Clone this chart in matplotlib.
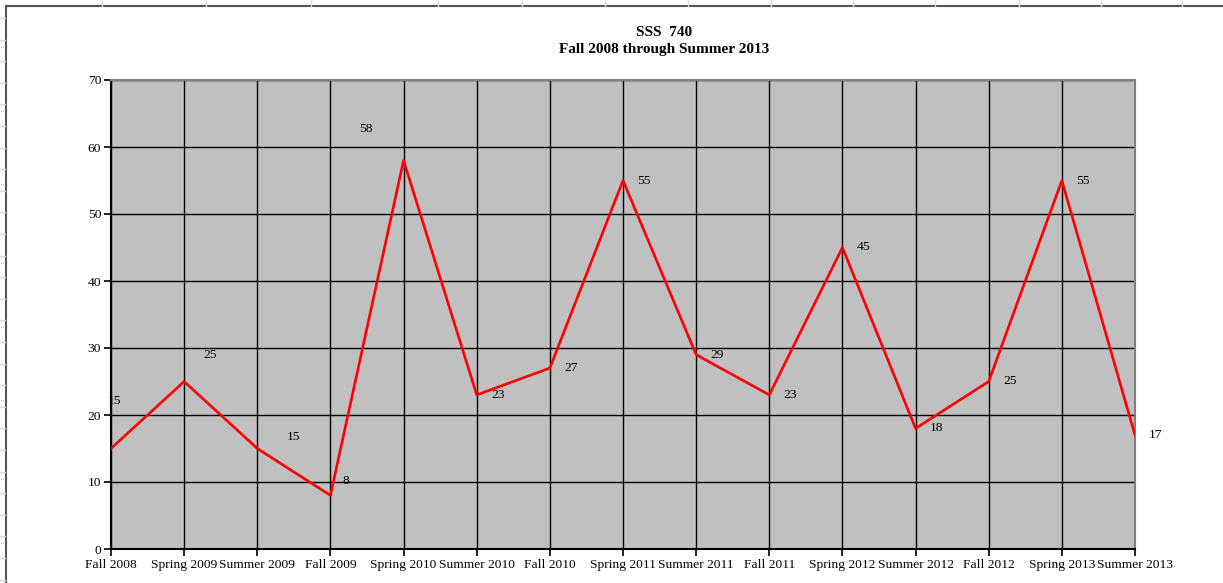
import numpy as np
import matplotlib.pyplot as plt
from matplotlib.lines import Line2D
from matplotlib.patches import Rectangle

# Terms and enrolment counts
terms = ['Fall 2008', 'Spring 2009', 'Summer 2009', 'Fall 2009', 'Spring 2010',
         'Summer 2010', 'Fall 2010', 'Spring 2011', 'Summer 2011', 'Fall 2011',
         'Spring 2012', 'Summer 2012', 'Fall 2012', 'Spring 2013', 'Summer 2013']
counts = [15, 25, 15, 8, 58, 23, 27, 55, 29, 23, 45, 18, 25, 55, 17]
yticks = [0, 10, 20, 30, 40, 50, 60, 70]

# where each data label sits relative to its point (pixels)
label_off = [(4, 48), (26, 27), (36, 11), (15, 14), (-38, 31)] + [(21, 0)] * 10

W, H = 1223, 583
plt.rcParams['font.family'] = ['Liberation Serif', 'DejaVu Serif']
fig = plt.figure(figsize=(W / 100, H / 100), dpi=100)

# spreadsheet cell lines peeking out around the chart object
for x in [102, 206, 311, 438, 522, 605, 688, 771, 853, 935, 1019, 1101, 1182]:
    fig.add_artist(Line2D([x / W, x / W], [1 - 6 / H, 1], color='#dcdcdc', lw=1))
for y in np.arange(18, 583, 21.6):
    fig.add_artist(Line2D([0, 5 / W], [1 - y / H, 1 - y / H], color='#dcdcdc', lw=1))
# chart object frame
fig.add_artist(Rectangle((6 / W, -0.01), 1.0, 1 - 6 / H + 0.01, transform=fig.transFigure,
                         fill=False, edgecolor='#555555', lw=1.5))

ax = fig.add_axes([111 / W, (H - 549) / H, (1135 - 111) / W, (549 - 80) / H])
ax.set_facecolor('#c0c0c0')
x = np.arange(len(terms))
ax.plot(x, counts, color='red', lw=1.9, zorder=3)

for i, v in enumerate(counts):
    dx, dy = label_off[i]
    ax.annotate(str(v), (x[i], v), xytext=(dx, dy), textcoords='offset pixels',
                ha='center', va='center', fontsize=9.7, color='black', zorder=4)

ax.set_xlim(0, len(terms) - 1)
ax.set_ylim(0, 70)
ax.set_xticks(x)
ax.set_xticklabels(terms, fontsize=9.7)
ax.set_yticks(yticks)
ax.set_yticklabels([str(t) for t in yticks], fontsize=9.7)
ax.grid(True, color='black', lw=1)
ax.set_axisbelow(True)
ax.tick_params(axis='both', length=5, width=1.2, color='black', pad=2)
for s in ['top', 'right']:
    ax.spines[s].set_color('#808080')
    ax.spines[s].set_linewidth(1.5)
for s in ['left', 'bottom']:
    ax.spines[s].set_color('black')
    ax.spines[s].set_linewidth(1.5)

fig.text(664 / W, 1 - 32 / H, 'SSS  740', ha='center', va='center',
         fontsize=11, fontweight='bold')
fig.text(664 / W, 1 - 50 / H, 'Fall 2008 through Summer 2013', ha='center', va='center',
         fontsize=11, fontweight='bold')

fig.savefig('out.png', dpi=100)
